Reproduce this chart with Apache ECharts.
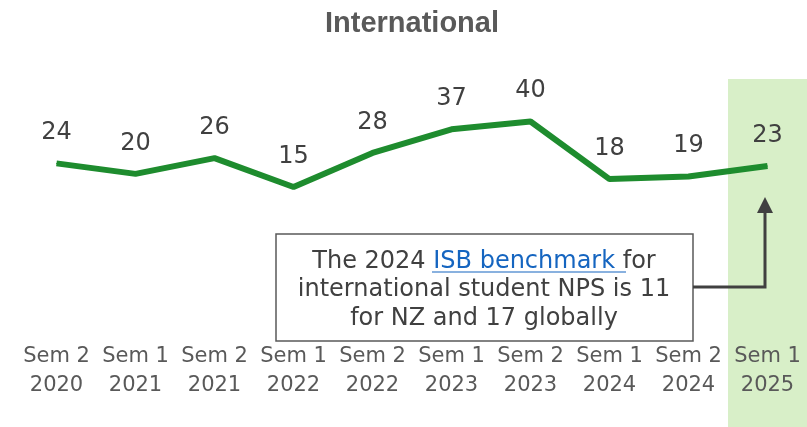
<!DOCTYPE html>
<html>
<head>
<meta charset="utf-8">
<script src="https://cdn.jsdelivr.net/npm/echarts@6/dist/echarts.min.js"></script>
<style>
  html, body { margin: 0; padding: 0; background: #fff; }
  #chart { width: 807px; height: 427px; }
</style>
</head>
<body>
<div id="chart"></div>
<script>
// categories and NPS values
var periods = [
  "Sem 2\n2020", "Sem 1\n2021", "Sem 2\n2021", "Sem 1\n2022", "Sem 2\n2022",
  "Sem 1\n2023", "Sem 2\n2023", "Sem 1\n2024", "Sem 2\n2024", "Sem 1\n2025"
];
var npsValues = [24, 20, 26, 15, 28, 37, 40, 18, 19, 23];
// 1 = highlighted period (latest semester)
var highlight = [null, null, null, null, null, null, null, null, null, 1];

var myChart = echarts.init(document.getElementById("chart"));

var option = {
  animation: false,
  title: {
    text: "International",
    left: 320,
    top: 4,
    textStyle: {
      fontFamily: "Liberation Sans",
      fontWeight: "bold",
      fontSize: 29,
      color: "#595959"
    }
  },
  grid: { left: 17, right: 0, top: 79, bottom: 0 },
  xAxis: {
    type: "category",
    data: periods,
    z: 5,
    axisLine: { show: false },
    axisTick: { show: false },
    axisLabel: {
      inside: true,
      margin: 27,
      interval: 0,
      fontFamily: "DejaVu Sans",
      fontSize: 21,
      lineHeight: 29,
      color: "#595959"
    }
  },
  yAxis: [
    { type: "value", min: -76.6, max: 56.2, show: false },
    { type: "value", min: 0, max: 1, show: false }
  ],
  series: [
    {
      type: "bar",
      yAxisIndex: 1,
      data: highlight,
      barWidth: "100%",
      barGap: "-100%",
      silent: true,
      itemStyle: { color: "#d8efc8" },
      z: 0
    },
    {
      type: "line",
      data: npsValues,
      symbol: "circle",
      symbolSize: 1,
      itemStyle: { color: "#1e8c2e" },
      lineStyle: { color: "#1e8c2e", width: 6 },
      label: {
        show: true,
        position: "top",
        distance: 18,
        fontFamily: "DejaVu Sans",
        fontSize: 24,
        color: "#404040"
      },
      z: 3
    }
  ],
  graphic: [
    // benchmark box
    {
      type: "rect",
      shape: { x: 276, y: 234, width: 417, height: 107 },
      style: { fill: "#fff", stroke: "#595959", lineWidth: 1.5 },
      z: 10
    },
    {
      type: "text",
      x: 484,
      y: 290,
      style: {
        text: "The 2024 {link|ISB benchmark }for\ninternational student NPS is 11\nfor NZ and 17 globally",
        align: "center",
        verticalAlign: "middle",
        fontFamily: "DejaVu Sans",
        fontSize: 24,
        lineHeight: 28.5,
        fill: "#404040",
        rich: {
          link: { fill: "#1565c0", fontFamily: "DejaVu Sans", fontSize: 24, lineHeight: 28.5 }
        }
      },
      z: 11
    },
    {
      type: "line",
      shape: { x1: 432, y1: 272, x2: 626, y2: 272 },
      style: { stroke: "#1565c0", lineWidth: 1.2 },
      z: 11
    },
    // arrow to latest value
    {
      type: "polyline",
      shape: { points: [[693, 287], [765, 287], [765, 212]] },
      style: { stroke: "#404040", lineWidth: 3, fill: null },
      z: 10
    },
    {
      type: "polygon",
      shape: { points: [[757, 213], [773, 213], [765, 197]] },
      style: { fill: "#404040" },
      z: 10
    }
  ]
};

myChart.setOption(option);
</script>
</body>
</html>
